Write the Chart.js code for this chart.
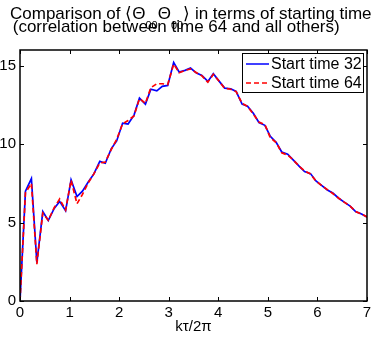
<!DOCTYPE html>
<html>
<head>
<meta charset="utf-8">
<script src="https://cdn.jsdelivr.net/npm/chart.js@4"></script>
<style>
  html, body { margin: 0; padding: 0; background: #fff; }
  #chart { display: block; }
</style>
</head>
<body>
<canvas id="chart" width="381" height="339"></canvas>
<script>
const FONT = "'Liberation Sans', Arial, Helvetica, sans-serif";

const titleLine1 = ['Comparison of \u27E8\u0398', '00', '\u0398', '00', '\u27E9 in terms of starting time'];
const titleLine2 = ' (correlation between time 64 and all others)';
const xTitle = 'k\u03C4/2\u03C0';

const xTicks = [0, 1, 2, 3, 4, 5, 6, 7];
const yTicks = [0, 5, 10, 15];

const kx = [0, 0.11, 0.23, 0.34, 0.46, 0.57, 0.69, 0.80, 0.92, 1.03, 1.15, 1.26, 1.38, 1.49, 1.61,
  1.72, 1.84, 1.95, 2.07, 2.18, 2.30, 2.41, 2.53, 2.64, 2.76, 2.87, 2.98, 3.10, 3.21, 3.33, 3.44,
  3.56, 3.67, 3.79, 3.90, 4.02, 4.13, 4.25, 4.36, 4.48, 4.59, 4.71, 4.82, 4.94, 5.05, 5.17, 5.28,
  5.40, 5.51, 5.63, 5.74, 5.86, 5.97, 6.09, 6.20, 6.31, 6.43, 6.54, 6.66, 6.77, 6.89, 7.00];

const start32 = [0, 7.0, 7.8, 2.45, 5.7, 5.13, 5.9, 6.35, 5.75, 7.72, 6.66, 7.0, 7.6, 8.1, 8.9,
  8.78, 9.7, 10.2, 11.34, 11.28, 11.85, 12.93, 12.55, 13.5, 13.4, 13.68, 13.74, 15.2, 14.6, 14.7, 14.85,
  14.53, 14.38, 14.0, 14.49, 14.0, 13.57, 13.53, 13.36, 12.55, 12.42, 11.95, 11.38, 11.2, 10.5, 10.1, 9.5,
  9.36, 9.0, 8.6, 8.25, 8.12, 7.65, 7.35, 7.08, 6.88, 6.55, 6.3, 6.05, 5.7, 5.55, 5.35];

const start64 = [0, 6.9, 7.5, 2.35, 5.6, 5.15, 5.95, 6.5, 5.8, 7.7, 6.2, 6.8, 7.55, 8.1, 8.8,
  8.85, 9.65, 10.3, 11.3, 11.5, 11.8, 12.9, 12.6, 13.6, 13.85, 13.85, 13.8, 15.1, 14.55, 14.7, 14.8,
  14.55, 14.35, 13.95, 14.45, 14.0, 13.55, 13.5, 13.35, 12.6, 12.4, 11.9, 11.4, 11.25, 10.4, 10.1, 9.45,
  9.3, 9.0, 8.6, 8.3, 8.1, 7.65, 7.35, 7.1, 6.85, 6.55, 6.3, 6.05, 5.7, 5.55, 5.35];

const seriesLabels = ['Start time 32', 'Start time 64'];

function toPoints(ys) {
  return kx.map((x, i) => ({ x, y: ys[i] }));
}

// MATLAB-style frame: box, inward ticks, title with subscripts, boxed legend
const matlabFrame = {
  id: 'matlabFrame',
  afterDraw(chart) {
    const ctx = chart.ctx;
    const { left, right, top, bottom } = chart.chartArea;
    const xs = chart.scales.x, ys = chart.scales.y;
    ctx.save();

    ctx.strokeStyle = '#000';
    ctx.lineWidth = 1.5;
    ctx.strokeRect(left, top, right - left, bottom - top);

    ctx.lineWidth = 1;
    ctx.beginPath();
    xTicks.forEach(v => {
      const px = Math.round(xs.getPixelForValue(v)) + 0.5;
      ctx.moveTo(px, bottom); ctx.lineTo(px, bottom - 4);
      ctx.moveTo(px, top); ctx.lineTo(px, top + 4);
    });
    yTicks.forEach(v => {
      const py = Math.round(ys.getPixelForValue(v)) + 0.5;
      ctx.moveTo(left, py); ctx.lineTo(left + 4, py);
      ctx.moveTo(right, py); ctx.lineTo(right - 4, py);
    });
    ctx.stroke();

    // title
    ctx.fillStyle = '#000';
    ctx.textBaseline = 'alphabetic';
    ctx.textAlign = 'left';
    let x = 10;
    titleLine1.forEach((part, i) => {
      const sub = i === 1 || i === 3;
      ctx.font = (sub ? '11px ' : '17px ') + FONT;
      ctx.fillText(part, x, sub ? 29 : 18.5);
      x += ctx.measureText(part).width;
    });
    ctx.font = '17px ' + FONT;
    ctx.fillText(titleLine2, 8, 32);

    // legend
    const lx = 242, ly = 53, lw = 121, lh = 39;
    ctx.fillStyle = '#fff';
    ctx.fillRect(lx, ly, lw, lh);
    ctx.strokeStyle = '#000';
    ctx.lineWidth = 1;
    ctx.strokeRect(lx + 0.5, ly + 0.5, lw, lh);
    chart.data.datasets.forEach((ds, i) => {
      const rowY = ly + 11 + i * 19;
      ctx.strokeStyle = ds.borderColor;
      ctx.lineWidth = 1.5;
      ctx.setLineDash(ds.borderDash || []);
      ctx.beginPath();
      ctx.moveTo(lx + 4, rowY); ctx.lineTo(lx + 27, rowY);
      ctx.stroke();
      ctx.setLineDash([]);
      ctx.fillStyle = '#000';
      ctx.font = '16px ' + FONT;
      ctx.textBaseline = 'middle';
      ctx.fillText(ds.label, lx + 29, rowY + 1);
    });
    ctx.restore();
  }
};

new Chart(document.getElementById('chart'), {
  type: 'line',
  data: {
    datasets: [
      {
        label: seriesLabels[0],
        data: toPoints(start32),
        borderColor: '#0000ff',
        borderWidth: 1.7,
        pointRadius: 0,
        tension: 0,
        order: 1,
      },
      {
        label: seriesLabels[1],
        data: toPoints(start64),
        borderColor: '#ff0000',
        borderWidth: 1.7,
        borderDash: [5, 3],
        pointRadius: 0,
        tension: 0,
        order: 0,
      },
    ],
  },
  options: {
    responsive: false,
    animation: false,
    layout: { padding: { top: 50, right: 14, left: 0, bottom: 0 } },
    plugins: {
      legend: { display: false },
      tooltip: { enabled: false },
      title: { display: false },
    },
    scales: {
      x: {
        type: 'linear',
        min: 0,
        max: 7,
        afterBuildTicks: s => { s.ticks = xTicks.map(v => ({ value: v })); },
        afterFit: s => { s.height = 38; },
        ticks: { color: '#000', padding: 3, font: { family: FONT, size: 15 } },
        grid: { display: false, drawTicks: false },
        border: { display: false },
        title: {
          display: true,
          text: xTitle,
          color: '#000',
          font: { family: FONT, size: 15 },
          padding: { top: 0, bottom: 3 },
        },
      },
      y: {
        min: 0,
        max: 16,
        afterBuildTicks: s => { s.ticks = yTicks.map(v => ({ value: v })); },
        afterFit: s => { s.width = 20; },
        ticks: { color: '#000', padding: 4, font: { family: FONT, size: 15 } },
        grid: { display: false, drawTicks: false },
        border: { display: false },
      },
    },
  },
  plugins: [matlabFrame],
});
</script>
</body>
</html>
